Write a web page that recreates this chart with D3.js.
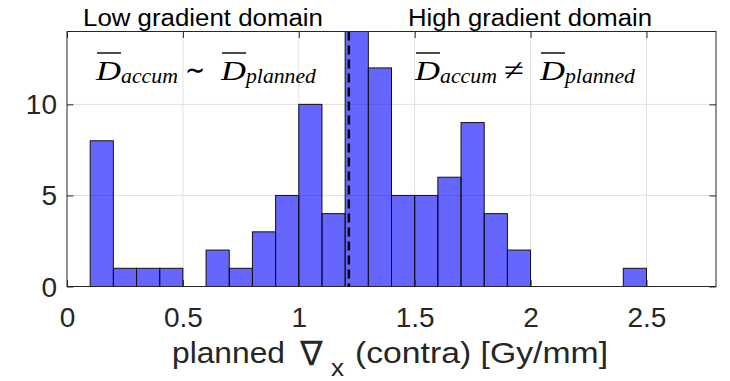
<!DOCTYPE html>
<html>
<head>
<meta charset="utf-8">
<script src="https://cdn.jsdelivr.net/npm/d3@7"></script>
<style>
  body { margin: 0; background: #fff; }
  svg { display: block; }
</style>
</head>
<body>
<svg id="chart" width="730" height="381"></svg>
<script>
// histogram bins (Gy/mm), width 0.1
const binEdges = [0, 0.1, 0.2, 0.3, 0.4, 0.5, 0.6, 0.7, 0.8, 0.9, 1.0, 1.1, 1.2, 1.3, 1.4,
  1.5, 1.6, 1.7, 1.8, 1.9, 2.0, 2.1, 2.2, 2.3, 2.4, 2.5, 2.6, 2.7, 2.8];
const counts = [0, 8, 1, 1, 1, 0, 2, 1, 3, 5, 10, 4, 14, 12,
  5, 5, 6, 9, 4, 2, 0, 0, 0, 0, 1, 0, 0, 0];
const xTicks = [0, 0.5, 1, 1.5, 2, 2.5];
const yTicks = [0, 5, 10];
const threshold = 1.216;
const domainTitles = ["Low gradient domain", "High gradient domain"];

const margin = { top: 31.5, right: 14, bottom: 94.5, left: 67 };
const W = 730, H = 381;
const width = W - margin.left - margin.right;
const height = H - margin.top - margin.bottom;

const svg = d3.select('#chart');
const g = svg.append('g').attr('transform', `translate(${margin.left},${margin.top})`);

const x = d3.scaleLinear().domain([0, 2.8]).range([0, width]);
const y = d3.scaleLinear().domain([0, 14]).range([height, 0]);

// grid
g.append('g').selectAll('line')
  .data(xTicks.slice(1))
  .join('line')
  .attr('x1', d => x(d)).attr('x2', d => x(d))
  .attr('y1', 0).attr('y2', height)
  .attr('stroke', '#e0e0e0').attr('stroke-width', 1);
g.append('g').selectAll('line')
  .data(yTicks.slice(1))
  .join('line')
  .attr('x1', 0).attr('x2', width)
  .attr('y1', d => y(d)).attr('y2', d => y(d))
  .attr('stroke', '#e0e0e0').attr('stroke-width', 1);

// bars
const bins = counts.map((c, i) => ({ x0: binEdges[i], x1: binEdges[i + 1], c: c }));
g.append('g').selectAll('rect')
  .data(bins)
  .join('rect')
  .attr('x', d => x(d.x0))
  .attr('y', d => y(d.c))
  .attr('width', d => x(d.x1) - x(d.x0))
  .attr('height', d => y(0) - y(d.c))
  .attr('fill', 'rgba(0,0,255,0.6)')
  .attr('stroke', '#111')
  .attr('stroke-width', 1);

// threshold line
g.append('line')
  .attr('x1', x(threshold)).attr('x2', x(threshold))
  .attr('y1', 0).attr('y2', height)
  .attr('stroke', '#000')
  .attr('stroke-width', 2.5)
  .attr('stroke-dasharray', '9,5');

// axes box
const axisColor = '#262626';
g.append('rect')
  .attr('x', 0).attr('y', 0)
  .attr('width', width).attr('height', height)
  .attr('fill', 'none')
  .attr('stroke', axisColor)
  .attr('stroke-width', 1);

const tickLen = 6.5;
const xAxis = d3.axisBottom(x).tickValues(xTicks).tickSize(-tickLen).tickPadding(21)
  .tickFormat(d3.format('~g'));
const yAxis = d3.axisLeft(y).tickValues(yTicks).tickSize(-tickLen).tickPadding(10)
  .tickFormat(d3.format('d'));

const fontSans = '"Liberation Sans", Arial, Helvetica, sans-serif';

const gx = g.append('g').attr('transform', `translate(0,${height})`).call(xAxis);
const gy = g.append('g').call(yAxis);
// top and right ticks
g.append('g').call(d3.axisTop(x).tickValues(xTicks).tickSize(-tickLen).tickFormat(''));
g.append('g').attr('transform', `translate(${width},0)`)
  .call(d3.axisRight(y).tickValues(yTicks).tickSize(-tickLen).tickFormat(''));

g.selectAll('.domain').remove();
g.selectAll('.tick line').attr('stroke', axisColor);
g.selectAll('.tick text')
  .attr('fill', '#262626')
  .style('font-family', fontSans)
  .style('font-size', '28px');
gx.selectAll('.tick text').attr('dy', '0.71em');
gy.selectAll('.tick text').attr('dy', '0.34em');

// text helper, optionally stretched to a given length
function stretched(parent, x0, base, txt, size, len, family, style) {
  const t = parent.append('text')
    .attr('x', x0).attr('y', base)
    .style('font-family', family)
    .style('font-style', style || 'normal')
    .style('font-size', size + 'px')
    .attr('fill', '#262626')
    .text(txt);
  if (len) t.attr('textLength', len).attr('lengthAdjust', 'spacingAndGlyphs');
  return t;
}
const xlab = svg.append('g');
stretched(xlab, 172, 363, 'planned', 30, 113, fontSans);
stretched(xlab, 300, 365, '\u2207', 34, null, '"DejaVu Sans", sans-serif');
stretched(xlab, 331, 376, 'x', 23, 13, fontSans);
stretched(xlab, 355, 363, '(contra) [Gy/mm]', 30, 253, fontSans);

// domain titles
stretched(svg, 83, 26, domainTitles[0], 23, 240, fontSans).attr('fill', '#000');
stretched(svg, 408, 26, domainTitles[1], 23, 244, fontSans).attr('fill', '#000');

// math annotations
const fontSerif = '"Liberation Serif", "Times New Roman", serif';
function mathLabel(x0, base, rel) {
  const grp = svg.append('g');
  let cx = x0;
  const parts = [
    { t: 'D', size: 28, italic: true, bar: true, len: 25 },
    { t: 'accum', size: 22, italic: true, dy: 3, len: 57 },
    { t: rel, size: 30, italic: false, padL: 7, padR: 16, len: 20 },
    { t: 'D', size: 28, italic: true, bar: true, len: 25 },
    { t: 'planned', size: 22, italic: true, dy: 3, len: 70 }
  ];
  parts.forEach(p => {
    cx += p.padL || 0;
    stretched(grp, cx, base + (p.dy || 0), p.t, p.size, p.len, fontSerif, p.italic ? 'italic' : 'normal')
      .attr('fill', '#000');
    if (p.bar) {
      grp.append('line')
        .attr('x1', cx + 1).attr('x2', cx + p.len)
        .attr('y1', base - 27).attr('y2', base - 27)
        .attr('stroke', '#000').attr('stroke-width', 1.4);
    }
    cx += p.len + (p.padR || 0);
  });
}
mathLabel(96, 80, '\u223C');
mathLabel(415, 80, '\u2260');
</script>
</body>
</html>
